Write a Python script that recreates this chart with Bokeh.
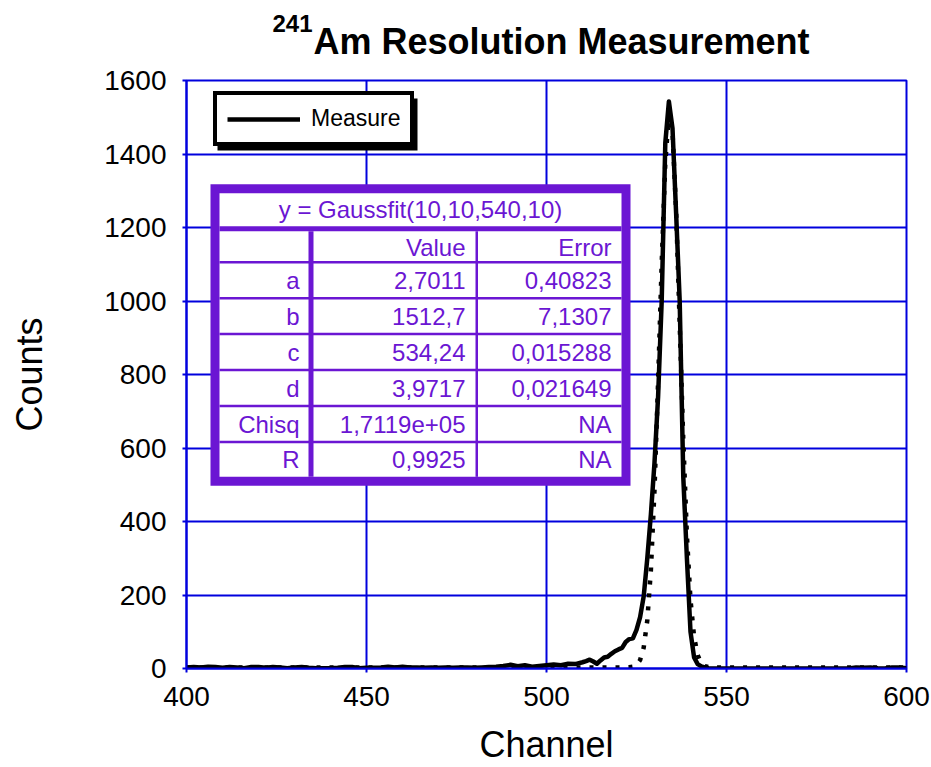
from bokeh.plotting import figure
from bokeh.models import Range1d, FixedTicker, Legend, LegendItem, Title
from bokeh.core.properties import value
from bokeh.embed import file_html
from bokeh.resources import INLINE

# ---------------- data ----------------
meas_channel = [
    400, 402, 404, 406, 408, 410, 412, 414, 416, 418, 420, 422, 424, 426, 428, 430, 432, 434, 436, 438, 440,
    442, 444, 446, 448, 450, 452, 454, 456, 458, 460, 462, 464, 466, 468, 470, 472, 474, 476, 478, 480,
    482, 484, 486, 488, 490, 492, 494, 496, 498, 500, 502, 504, 506, 508, 510,
    511, 512, 513, 514, 515, 516, 517, 518, 519, 520, 521, 522, 523, 524, 525, 526, 527, 528, 529, 530,
    531, 532, 533, 534, 535, 536, 537, 538, 539, 540, 541, 542, 543, 544, 545, 546,
    550, 560, 570, 580, 584, 586, 588, 590, 592, 594, 596, 598, 600]
meas_counts = [
    3, 4, 3, 5, 4, 2, 4, 3, 1, 4, 4, 2, 4, 3, 1, 3, 4, 2, 1, 1, 1,
    2, 4, 4, 1, 2, 2, 3, 5, 3, 5, 3, 3, 2, 3, 2, 3, 2, 3, 3, 2,
    3, 4, 5, 7, 10, 6, 9, 5, 7, 9, 11, 9, 13, 12, 17,
    20, 24, 19, 13, 22, 30, 32, 40, 47, 52, 56, 72, 80, 82, 105, 140, 196, 300, 420, 560,
    740, 1000, 1430, 1543, 1470, 1240, 1000, 520, 300, 100, 30, 12, 6, 3, 1, 0,
    0, 0, 0, 0, 0, 3, 2, 3, 1, 0, 3, 3, 1]

fit_channel = [400, 520, 521, 522, 523, 524, 525, 526, 527, 528, 529, 530, 531, 532, 533, 534,
               535, 536, 537, 538, 539, 540, 541, 542, 543, 544, 545, 546, 547, 548, 600]
fit_counts = [2.7, 2.7, 2.7, 2.8, 3.3, 4.7, 9.4, 23, 57, 131, 268, 487, 780, 1103, 1375, 1510,
              1461, 1246, 936, 620, 362, 187, 86, 36, 14, 6.3, 3.7, 2.9, 2.7, 2.7, 2.7]

x_ticks = [400, 450, 500, 550, 600]
y_ticks = [0, 200, 400, 600, 800, 1000, 1200, 1400, 1600]

fit_title = "y = Gaussfit(10,10,540,10)"
table_head = ["", "Value", "Error"]
table_params = ["a", "b", "c", "d", "Chisq", "R"]
table_values = ["2,7011", "1512,7", "534,24", "3,9717", "1,7119e+05", "0,9925"]
table_errors = ["0,40823", "7,1307", "0,015288", "0,021649", "NA", "NA"]

# ---------------- layout helpers ----------------
FONT = "Liberation Sans"
BLUE = "#0000DD"
PURPLE = "#6B16D3"
W, H = 931, 767
ML, MR, MT, MB = 186, 25, 80, 98
X0, X1, Y0, Y1 = 400, 600, 0, 1600
FX0, FX1, FY0, FY1 = ML, W - MR, MT, H - MB   # canvas pixels of the frame
TXT_SHIFT = 8   # empirical correction of the text glyph baseline (px)


def dx(px):
    return X0 + (px - FX0) * (X1 - X0) / (FX1 - FX0)


def dy(py):
    return Y1 - (py - FY0) * (Y1 - Y0) / (FY1 - FY0)


p = figure(width=W, height=H, x_range=Range1d(X0, X1), y_range=Range1d(Y0, Y1),
           output_backend="svg", toolbar_location=None,
           min_border_left=ML, min_border_right=MR, min_border_top=MT, min_border_bottom=MB)
p.title.visible = False
p.background_fill_color = "white"
p.border_fill_color = "white"
p.outline_line_color = BLUE
p.outline_line_width = 2

p.xaxis.ticker = FixedTicker(ticks=x_ticks)
p.yaxis.ticker = FixedTicker(ticks=y_ticks)
for ax in (p.xaxis[0], p.yaxis[0]):
    ax.axis_line_color = BLUE
    ax.axis_line_width = 2
    ax.major_tick_line_color = BLUE
    ax.major_tick_line_width = 2
    ax.major_tick_out = 4
    ax.major_tick_in = 0
    ax.minor_tick_line_color = None
    ax.major_label_text_font = FONT
    ax.major_label_text_font_size = "28px"
    ax.major_label_text_color = "black"
    ax.axis_label_text_font = FONT
    ax.axis_label_text_font_size = "36px"
    ax.axis_label_text_font_style = "normal"
    ax.axis_label_text_color = "black"
p.xaxis.axis_label = "Channel"
p.yaxis.axis_label = "Counts"
p.xaxis.major_label_standoff = 14
p.xaxis.axis_label_standoff = 15
p.yaxis.major_label_standoff = 16
p.yaxis.axis_label_standoff = 51

p.xgrid.grid_line_color = BLUE
p.ygrid.grid_line_color = BLUE
p.xgrid.grid_line_width = 2
p.ygrid.grid_line_width = 2

# ---------------- title (superscript 241 + main text) ----------------
p.add_layout(Title(text="Am Resolution Measurement", align="left", offset=313 - ML, standoff=37,
                   text_font=FONT, text_font_size="36px", text_font_style="bold",
                   text_color="black"), "above")
p.add_layout(Title(text="241", align="left", offset=272 - ML, standoff=-63,
                   text_font=FONT, text_font_size="24px", text_font_style="bold",
                   text_color="black"), "above")

# ---------------- fit parameter table ----------------
TL, TR, TT, TB = 210, 630, 184, 486
BW = 9
IL, IR, IT, IB = TL + BW, TR - BW, TT + BW, TB - BW
HSEP = 226
C1, C2 = 308, 475
row_edges = [231, 262, 298, 334, 370, 406, 442, 477]

qL, qR, qT, qB, qC = [], [], [], [], []


def box(l, t, r, b, c):
    qL.append(dx(l)); qR.append(dx(r)); qT.append(dy(t)); qB.append(dy(b)); qC.append(c)


box(TL, TT, TR, TB, PURPLE)
box(IL, IT, IR, IB, "white")
box(IL, HSEP, IR, HSEP + 5, PURPLE)
box(C1, HSEP + 5, C1 + 5, IB, PURPLE)
box(C2, HSEP + 5, C2 + 2.5, IB, PURPLE)
for e in row_edges[1:-1]:
    box(IL, e - 1.25, IR, e + 1.25, PURPLE)
# legend shadow
box(217, 98, 417, 150, "black")
p.quad(left=qL, right=qR, top=qT, bottom=qB, fill_color=qC, line_color=None)

tx, ty, tt = [], [], []
col_right = [299, 465, 611]
rows = [table_head] + [[a, b, c] for a, b, c in zip(table_params, table_values, table_errors)]
for i, row in enumerate(rows):
    base = (row_edges[i] + row_edges[i + 1]) / 2 + 8.5 - TXT_SHIFT
    for j, txt in enumerate(row):
        if txt:
            tx.append(dx(col_right[j])); ty.append(dy(base)); tt.append(txt)
p.text(x=tx, y=ty, text=tt, text_font=value(FONT), text_font_size="24px",
       text_align="right", text_baseline="alphabetic", text_color=PURPLE)
p.text(x=[dx((IL + IR) / 2)], y=[dy(217 - TXT_SHIFT)], text=[fit_title], text_font=value(FONT),
       text_font_size="24px", text_align="center", text_baseline="alphabetic", text_color=PURPLE)

# ---------------- curves ----------------
fit_r = p.line(fit_channel, fit_counts, line_color="black", line_width=4.5,
               line_dash="4 9", line_cap="butt")
meas_r = p.line(meas_channel, meas_counts, line_color="black", line_width=4.5, line_join="round")

legend = Legend(items=[LegendItem(label="Measure", renderers=[meas_r])],
                location=(27, 522), orientation="vertical",
                label_text_font=FONT, label_text_font_size="23px", label_text_color="black",
                glyph_width=73, glyph_height=20, label_standoff=11,
                padding=10, spacing=0, margin=0,
                border_line_color="black", border_line_width=4, border_line_alpha=1,
                background_fill_color="white", background_fill_alpha=1)
p.add_layout(legend)

open("out.html", "w").write(file_html(p, INLINE))
